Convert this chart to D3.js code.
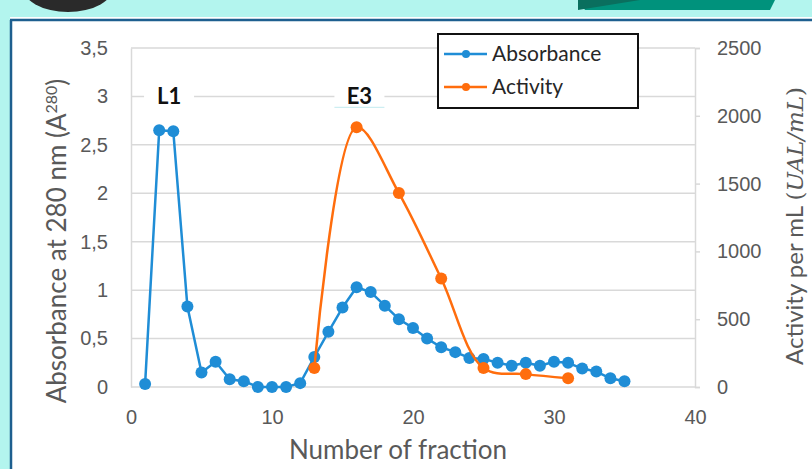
<!DOCTYPE html>
<meta charset="utf-8">
<script src="https://d3js.org/d3.v7.min.js"></script>
<style>
  body { margin: 0; background: #ffffff; }
  svg { display: block; font-family: Lato, "Open Sans", sans-serif; }
</style>
<div id="chart"></div>
<script>

// data
const fractions   = d3.range(1, 36);
const absorbance  = [0.03, 2.65, 2.64, 0.83, 0.15, 0.26, 0.08, 0.06, 0.0, 0.0,
                     0.0, 0.04, 0.31, 0.57, 0.82, 1.03, 0.98, 0.84, 0.70, 0.61,
                     0.50, 0.41, 0.36, 0.30, 0.29, 0.25, 0.22, 0.25, 0.22, 0.26,
                     0.25, 0.19, 0.16, 0.09, 0.06];
const actFractions = [13, 16, 19, 22, 25, 28, 31];
const activity     = [140, 1915, 1430, 800, 140, 95, 65];
const xTicks  = [0, 10, 20, 30, 40];
const yLTicks = [0, 0.5, 1, 1.5, 2, 2.5, 3, 3.5];
const yRTicks = [0, 500, 1000, 1500, 2000, 2500];
const peaks   = [{label: "L1", x: 2.7}, {label: "E3", x: 16.2}];

const W = 812, H = 469;
const blue = "#1f8dd6", orange = "#ff6d0d", grey = "#595959";

const svg = d3.select("#chart").append("svg")
    .attr("width", W).attr("height", H);

// slide decoration around the chart
svg.append("rect").attr("x", 0).attr("y", 0).attr("width", W).attr("height", 17).attr("fill", "#b3f5ee");
svg.append("rect").attr("x", 0).attr("y", 0).attr("width", 10).attr("height", H).attr("fill", "#b3f5ee");
svg.append("ellipse").attr("cx", 68).attr("cy", -14).attr("rx", 46).attr("ry", 26).attr("fill", "#2a2a2a");
svg.append("path").attr("d", "M578,0 L775,0 L770,10 L585,10 Z").attr("fill", "#00927c");
svg.append("path").attr("d", "M578,10 L640,0 L578,0 Z").attr("fill", "#0a6f5e");
svg.append("line").attr("x1", 10).attr("x2", W).attr("y1", 20).attr("y2", 20)
    .attr("stroke", "#1d5f8f").attr("stroke-width", 2.5);
svg.append("line").attr("x1", 11).attr("x2", 11).attr("y1", 20).attr("y2", H)
    .attr("stroke", "#1d5f8f").attr("stroke-width", 2.5);

const x = d3.scaleLinear().domain([0, 40]).range([131, 695]);
const yL = d3.scaleLinear().domain([0, 3.5]).range([387, 48]);
const yR = d3.scaleLinear().domain([0, 2500]).range([387, 48]);

// gridlines
svg.append("g")
    .selectAll("line")
    .data(yLTicks)
    .join("line")
    .attr("x1", x(0)).attr("x2", x(40))
    .attr("y1", d => yL(d)).attr("y2", d => yL(d))
    .attr("stroke", "#d9d9d9").attr("stroke-width", 1.5);

// left axis
const gL = svg.append("g").attr("transform", `translate(${x(0)},0)`)
    .call(d3.axisLeft(yL).tickValues(yLTicks).tickSize(0).tickPadding(23)
        .tickFormat(d => String(d).replace(".", ",")));
gL.select(".domain").attr("stroke", "#d9d9d9").attr("stroke-width", 1.5);
gL.selectAll("text").attr("fill", grey).style("font-size", "20px");

// right axis
const gR = svg.append("g").attr("transform", `translate(${x(40)},0)`)
    .call(d3.axisRight(yR).tickValues(yRTicks).tickSize(5).tickPadding(17)
        .tickFormat(d3.format("d")));
gR.select(".domain").attr("stroke", "#d9d9d9").attr("stroke-width", 1.5);
gR.selectAll("line").attr("stroke", "#d9d9d9").attr("stroke-width", 1.5);
gR.selectAll("text").attr("fill", grey).style("font-size", "20px");

// bottom axis
const gB = svg.append("g").attr("transform", `translate(0,${yL(0)})`)
    .call(d3.axisBottom(x).tickValues(xTicks).tickSize(0).tickPadding(23));
gB.select(".domain").remove();
gB.selectAll("text").attr("fill", grey).style("font-size", "20px");

// axis titles
svg.append("text")
    .attr("x", 398).attr("y", 459)
    .attr("text-anchor", "middle")
    .attr("fill", grey).style("font-size", "26px")
    .text("Number of fraction");

const tL = svg.append("text")
    .attr("transform", "translate(66,241) rotate(-90)")
    .attr("text-anchor", "middle")
    .attr("fill", grey).style("font-size", "26px");
tL.append("tspan").text("Absorbance at 280 nm (A");
tL.append("tspan").attr("dy", -9).style("font-size", "16px").text("280");
tL.append("tspan").attr("dy", 9).text(")");

const tR = svg.append("text")
    .attr("transform", "translate(803,226) rotate(-90)")
    .attr("text-anchor", "middle")
    .attr("fill", grey).style("font-size", "24px");
tR.append("tspan").text("Activity per mL ");
const serif = "DejaVu Serif, Liberation Serif, serif";
tR.append("tspan").style("font-family", serif).style("font-size", "23px").text("(");
tR.append("tspan").style("font-family", serif).style("font-size", "23px")
    .style("font-style", "italic").text("UAL/mL");
tR.append("tspan").style("font-family", serif).style("font-size", "23px").text(")");

// series
const absData = fractions.map((f, i) => [f, absorbance[i]]);
const actData = actFractions.map((f, i) => [f, activity[i]]);

svg.append("path")
    .datum(absData)
    .attr("fill", "none").attr("stroke", blue).attr("stroke-width", 2.5)
    .attr("stroke-linejoin", "round")
    .attr("d", d3.line().x(d => x(d[0])).y(d => yL(d[1])));
svg.append("g").selectAll("circle")
    .data(absData)
    .join("circle")
    .attr("cx", d => x(d[0])).attr("cy", d => yL(d[1])).attr("r", 6)
    .attr("fill", blue);

svg.append("path")
    .datum(actData)
    .attr("fill", "none").attr("stroke", orange).attr("stroke-width", 2.5)
    .attr("d", d3.line().x(d => x(d[0])).y(d => yR(d[1])).curve(d3.curveCatmullRom));
svg.append("g").selectAll("circle")
    .data(actData)
    .join("circle")
    .attr("cx", d => x(d[0])).attr("cy", d => yR(d[1])).attr("r", 6)
    .attr("fill", orange);

// peak labels
const pk = svg.append("g").selectAll("g")
    .data(peaks)
    .join("g")
    .attr("transform", d => `translate(${x(d.x)},${yL(3)})`);
pk.append("rect")
    .attr("x", -25).attr("y", -10).attr("width", 50).attr("height", 20)
    .attr("fill", "#ffffff");
pk.append("text")
    .attr("text-anchor", "middle").attr("dy", "0.36em")
    .style("font-size", "22px").style("font-weight", "bold")
    .attr("fill", "#111")
    .text(d => d.label);
pk.filter(d => d.label === "E3").append("line")
    .attr("x1", -25).attr("x2", 25).attr("y1", 11).attr("y2", 11)
    .attr("stroke", "#cdeef2").attr("stroke-width", 1.2);

// legend
const lg = svg.append("g").attr("transform", "translate(438,34)");
lg.append("rect")
    .attr("width", 200).attr("height", 74)
    .attr("fill", "#ffffff").attr("stroke", "#111").attr("stroke-width", 2);
const items = [{name: "Absorbance", c: blue}, {name: "Activity", c: orange}];
const li = lg.selectAll("g.item")
    .data(items)
    .join("g")
    .attr("class", "item")
    .attr("transform", (d, i) => `translate(0,${20 + i * 33})`);
li.append("line")
    .attr("x1", 6).attr("x2", 49)
    .attr("stroke", d => d.c).attr("stroke-width", 2.5);
li.append("circle").attr("cx", 28).attr("r", 4).attr("fill", d => d.c);
li.append("text")
    .attr("x", 54).attr("dy", "0.35em")
    .style("font-size", "21px").attr("fill", "#262626")
    .text(d => d.name);

</script>
